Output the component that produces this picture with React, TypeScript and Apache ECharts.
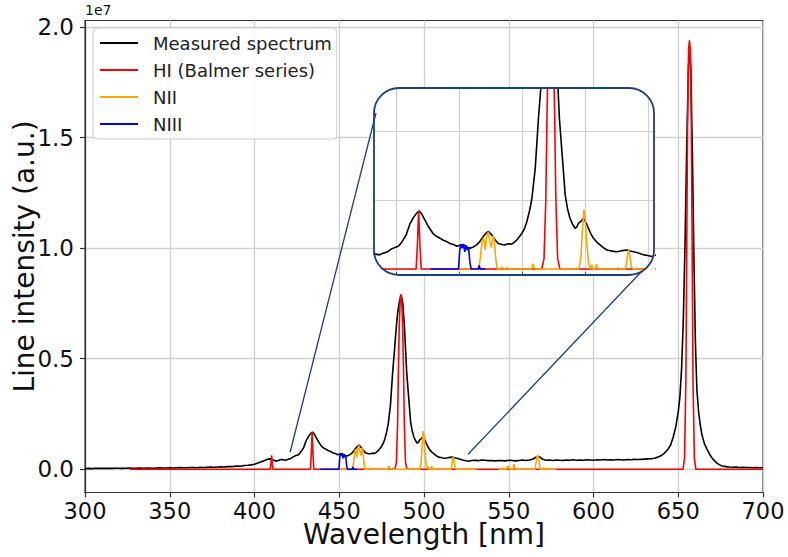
import { useEffect, useRef } from "react";
import * as echarts from "echarts";

// Axis ticks
const WAVELENGTH_TICKS = [300, 350, 400, 450, 500, 550, 600, 650, 700];
const INTENSITY_TICKS = [0, 5e6, 1e7, 1.5e7, 2e7];
const INSET_X_TICKS = [425, 450, 475, 500, 525];
const INSET_Y_TICKS = [0, 2e6, 4e6];

// Intensities below are given in units of 1e6 (a.u.)
const UNIT = 1e6;

// Measured spectrum: [wavelength (nm), intensity]
const measured: [number, number][] = [
  [300, 0.03], [302, 0.04], [304, 0.03], [306, 0.04], [308, 0.05], [310, 0.04], [312, 0.04], [314, 0.05],
  [316, 0.04], [318, 0.05], [320, 0.05], [322, 0.04], [324, 0.05], [326, 0.06], [328, 0.05], [330, 0.05],
  [332, 0.06], [334, 0.05], [336, 0.06], [338, 0.06], [340, 0.05], [342, 0.06], [344, 0.07], [346, 0.06],
  [348, 0.06], [350, 0.07], [352, 0.06], [354, 0.07], [356, 0.08], [358, 0.07], [360, 0.07], [362, 0.08],
  [364, 0.08], [366, 0.07], [368, 0.09], [370, 0.08], [372, 0.09], [374, 0.1], [376, 0.09], [378, 0.1],
  [380, 0.11], [382, 0.1], [384, 0.12], [386, 0.12], [388, 0.13], [390, 0.15], [392, 0.14], [394, 0.17],
  [396, 0.18], [398, 0.2], [400, 0.23], [402, 0.28], [404, 0.34], [406, 0.4], [408, 0.46], [409.5, 0.47],
  [411, 0.42], [412.5, 0.37], [414, 0.4], [415.5, 0.44], [417, 0.43], [418.5, 0.41], [420, 0.46], [421.5, 0.49],
  [423, 0.57], [424.5, 0.62], [426, 0.66], [427.5, 0.8], [429, 0.98], [430.5, 1.3], [432, 1.5], [433.2, 1.62],
  [434.2, 1.68], [435.2, 1.6], [436.5, 1.42], [437.5, 1.28], [438.5, 1.16], [439.8, 1.02], [441, 0.95],
  [442.3, 0.9], [443.6, 0.84], [445, 0.8], [446.4, 0.74], [447.8, 0.71], [449.1, 0.66], [450.4, 0.69],
  [451.7, 0.71], [453, 0.64], [454.4, 0.6], [455.7, 0.64], [457, 0.7], [458.3, 0.8], [459.6, 0.94],
  [460.6, 1.03], [461.6, 1.09], [462.6, 1.02], [463.6, 0.93], [464.6, 0.82], [465.6, 0.74], [467, 0.71],
  [468.3, 0.7], [469.6, 0.73], [470.9, 0.72], [472, 0.78], [472.9, 0.84], [474, 0.94], [474.9, 1.03],
  [476, 1.18], [476.9, 1.37], [478, 1.7], [478.9, 2.05], [480.2, 2.9], [481.5, 4.37], [482.5, 5.3],
  [483.5, 6.3], [484.5, 7.1], [485.5, 7.6], [486.5, 7.9], [487.5, 7.5], [488.5, 6.4], [489.2, 5.3],
  [489.8, 4.37], [490.8, 3.4], [492.1, 2.14], [493, 1.75], [494, 1.47], [495, 1.3], [496, 1.18], [496.7, 1.22],
  [497.3, 1.32], [498.3, 1.38], [499.3, 1.47], [500.3, 1.35], [501.3, 1.18], [502.3, 1.02], [503.3, 0.89],
  [504.6, 0.78], [505.9, 0.7], [507.2, 0.62], [508.6, 0.55], [510, 0.53], [511.3, 0.51], [512.6, 0.5],
  [514, 0.52], [515.3, 0.54], [516.6, 0.55], [517.9, 0.52], [519.2, 0.5], [520.5, 0.48], [521.9, 0.44],
  [523.2, 0.41], [524.8, 0.39], [526.5, 0.36], [528, 0.4], [530, 0.41], [532, 0.39], [534, 0.42], [536, 0.41],
  [538, 0.39], [540, 0.4], [542, 0.38], [544, 0.4], [546, 0.39], [548, 0.38], [550, 0.41], [552, 0.4],
  [554, 0.38], [556, 0.4], [558, 0.42], [560, 0.4], [562, 0.42], [564, 0.45], [565.5, 0.52], [567, 0.58],
  [568.5, 0.55], [570, 0.45], [572, 0.41], [574, 0.42], [576, 0.4], [578, 0.42], [580, 0.41], [582, 0.4],
  [584, 0.42], [586, 0.41], [588, 0.43], [590, 0.41], [592, 0.42], [594, 0.41], [596, 0.43], [598, 0.42],
  [600, 0.41], [602, 0.43], [604, 0.42], [606, 0.44], [608, 0.42], [610, 0.43], [612, 0.42], [614, 0.44],
  [616, 0.43], [618, 0.42], [620, 0.44], [622, 0.43], [624, 0.45], [626, 0.44], [628, 0.45], [630, 0.46],
  [632, 0.47], [634, 0.48], [636, 0.5], [638, 0.55], [640, 0.62], [642, 0.74], [644, 0.92], [645.5, 1.1],
  [647, 1.45], [648.5, 1.9], [650, 2.6], [651, 3.3], [652, 4.6], [653, 6.8], [654, 10.2], [655, 14.6],
  [656, 18.2], [656.7, 18.9], [657.4, 18.2], [658.3, 14.5], [659.2, 9.8], [660.1, 5.8], [661, 3.6], [662, 2.6],
  [663, 2.0], [664, 1.55], [665.5, 1.15], [667, 0.9], [668.5, 0.68], [670, 0.5], [671.5, 0.38], [673, 0.27],
  [674.5, 0.2], [676, 0.15], [678, 0.12], [680, 0.1], [682, 0.09], [684, 0.1], [686, 0.08], [688, 0.09],
  [690, 0.08], [692, 0.08], [694, 0.07], [696, 0.08], [698, 0.07], [700, 0.08],
];

// HI Balmer lines (Hδ, Hγ, Hβ, Hα)
const hiBalmer: [number, number][] = [
  [326.5, 0], [409.3, 0], [409.7, 0.25], [410.1, 0.63], [410.5, 0.25], [410.9, 0],
  [433.0, 0], [433.5, 0.7], [434.0, 1.69], [434.5, 0.7], [435.0, 0],
  [482.8, 0], [483.7, 0.3], [484.4, 2.0], [484.9, 4.5], [485.4, 6.5], [486.0, 7.7], [486.4, 7.9],
  [486.8, 7.7], [487.4, 6.5], [487.9, 4.5], [488.4, 2.0], [489.1, 0.3], [490.0, 0],
  [652.8, 0], [653.7, 0.5], [654.5, 4.0], [655.0, 10.0], [655.5, 15.5], [656.1, 19.0], [656.6, 19.4],
  [657.1, 19.0], [657.7, 15.5], [658.2, 10.0], [658.7, 4.0], [659.5, 0.5], [660.4, 0], [700, 0],
];

// NII lines, blue-green window
const niiA: [number, number][] = [
  [449.5, 0], [457.8, 0], [458.5, 0.35], [459.2, 0.82], [459.8, 0.9], [460.4, 0.55], [461.0, 0.95],
  [461.6, 1.08], [462.2, 0.8], [462.8, 0.62], [463.4, 0.95], [463.9, 0.9], [464.5, 0.35], [465.1, 0],
  [466.5, 0], [467.0, 0.06], [467.5, 0], [468.5, 0], [469.0, 0.05], [469.5, 0], [478.8, 0], [479.3, 0.15],
  [479.8, 0.05], [480.3, 0], [497.5, 0], [498.3, 0.3], [498.9, 1.1], [499.5, 1.72], [500.0, 1.5],
  [500.6, 0.8], [501.3, 0.2], [502.0, 0], [502.6, 0.12], [503.1, 0], [504.1, 0], [504.5, 0.15], [505.0, 0],
  [512.5, 0], [513.0, 0.03], [513.5, 0], [516.0, 0], [516.6, 0.3], [517.2, 0.56], [517.8, 0.35],
  [518.4, 0.05], [519.0, 0], [531, 0],
];

// NII lines, green window
const niiB: [number, number][] = [
  [544, 0], [546, 0], [546.5, 0.08], [547, 0], [548.5, 0], [549, 0.12], [549.5, 0.03], [550, 0.15],
  [550.5, 0], [552.5, 0], [553, 0.25], [553.5, 0.1], [554, 0], [565.5, 0], [566.2, 0.35], [566.8, 0.62],
  [567.4, 0.6], [568.0, 0.3], [568.6, 0], [570, 0], [570.5, 0.08], [571, 0], [572.5, 0], [573, 0.05],
  [573.5, 0], [578, 0],
];

// NIII lines
const niii: [number, number][] = [
  [438.8, 0], [449.8, 0], [450.3, 0.55], [450.8, 0.72], [451.3, 0.6], [451.8, 0.7], [452.3, 0.5],
  [452.8, 0.68], [453.3, 0.55], [453.8, 0.62], [454.3, 0.2], [454.8, 0], [457.6, 0], [458.0, 0.1],
  [458.4, 0], [460.5, 0],
];

// Where the zoom connectors leave the main spectrum: [wavelength (nm), intensity]
const ZOOM_ANCHORS: [number, number][] = [
  [421, 0.77],
  [526, 0.68],
];

const SERIES_NAMES = ["Measured spectrum", "HI (Balmer series)", "NII", "NIII"];
const COLORS = { measured: "#000000", hi: "#ff0000", nii: "#ffa500", niii: "#0000ff" };

const FONT = "DejaVu Sans";
const GRID_COLOR = "#d0d0d0";
const FRAME_COLOR = "#1f3f7a";

// Inset box in pixels
const INSET = { left: 374, top: 88, width: 280, height: 187, r: 25 };
const INSET_X_RANGE = [416.3, 527.3];
const INSET_Y_RANGE = [-0.174e6, 5.246e6];

const toPairs = (arr: [number, number][]) => arr.map(([x, y]) => [x, y * UNIT]);

function cornerMaskPath(w: number, h: number, r: number) {
  return [
    `M0 0 L${r} 0 A${r} ${r} 0 0 0 0 ${r} Z`,
    `M${w} 0 L${w} ${r} A${r} ${r} 0 0 0 ${w - r} 0 Z`,
    `M${w} ${h} L${w - r} ${h} A${r} ${r} 0 0 0 ${w} ${h - r} Z`,
    `M0 ${h} L0 ${h - r} A${r} ${r} 0 0 0 ${r} ${h} Z`,
  ].join(" ");
}

echarts.graphic.registerShape(
  "insetCorners",
  echarts.graphic.extendPath(cornerMaskPath(INSET.width + 2, INSET.height + 2, INSET.r + 1), {})
);

function lineSeries(name: string, data: [number, number][], color: string, inset: boolean, width = 1.6) {
  return {
    type: "line",
    name,
    data: toPairs(data),
    xAxisIndex: inset ? 1 : 0,
    yAxisIndex: inset ? 1 : 0,
    showSymbol: false,
    symbol: "none",
    clip: true,
    z: inset ? 5 : 2,
    lineStyle: { color, width },
    itemStyle: { color },
    emphasis: { disabled: true },
  };
}

export default function App() {
  const ref = useRef<HTMLDivElement>(null);

  useEffect(() => {
    if (!ref.current) return;
    const chart = echarts.init(ref.current, null, { renderer: "svg" });

    const series: any[] = [];
    for (const inset of [false, true]) {
      series.push(lineSeries(SERIES_NAMES[0], measured, COLORS.measured, inset, 1.6));
      series.push(lineSeries(SERIES_NAMES[1], hiBalmer, COLORS.hi, inset, 1.6));
      series.push(lineSeries(SERIES_NAMES[2], niiA, COLORS.nii, inset, 1.6));
      series.push(lineSeries(SERIES_NAMES[2], niiB, COLORS.nii, inset, 1.6));
      series.push(lineSeries(SERIES_NAMES[3], niii, COLORS.niii, inset, 1.6));
    }

    chart.setOption({
      animation: false,
      backgroundColor: "#ffffff",
      textStyle: { fontFamily: FONT },
      grid: [
        {
          left: 85, top: 20.5, right: 25, bottom: 64.5,
          outerBoundsMode: "none", containLabel: false,
          show: true, borderColor: "#333333", borderWidth: 1.2, z: 0,
        },
        {
          left: INSET.left, top: INSET.top, width: INSET.width, height: INSET.height,
          outerBoundsMode: "none", containLabel: false, show: false, z: 4,
        },
      ],
      xAxis: [
        {
          type: "value",
          gridIndex: 0,
          min: WAVELENGTH_TICKS[0],
          max: WAVELENGTH_TICKS[WAVELENGTH_TICKS.length - 1],
          interval: 50,
          name: "Wavelength [nm]",
          nameLocation: "middle",
          nameGap: 33,
          nameMoveOverlap: false,
          nameTextStyle: { fontSize: 28, lineHeight: 18, color: "#111", fontFamily: FONT },
          axisLine: { show: true, onZero: false, lineStyle: { color: "#333", width: 1.2 } },
          axisTick: { show: true, length: 5, lineStyle: { color: "#333", width: 1.2 } },
          axisLabel: { fontSize: 22.5, lineHeight: 22, color: "#111", margin: 7, fontFamily: FONT },
          splitLine: { show: true, lineStyle: { color: GRID_COLOR, width: 1.3 } },
          z: 0,
        },
        {
          type: "value",
          gridIndex: 1,
          min: INSET_X_RANGE[0],
          max: INSET_X_RANGE[1],
          axisLine: { show: false, onZero: false },
          axisTick: { show: true, inside: true, length: 3, customValues: INSET_X_TICKS, lineStyle: { color: "#555" } },
          axisLabel: { show: false, customValues: INSET_X_TICKS },
          splitLine: { show: true, lineStyle: { color: GRID_COLOR, width: 1.2 } },
          z: 4,
        },
      ],
      yAxis: [
        {
          type: "value",
          gridIndex: 0,
          min: -1.05e6,
          max: 2.03e7,
          name: "Line intensity (a.u.)",
          nameLocation: "middle",
          nameGap: 47,
          nameMoveOverlap: false,
          nameTextStyle: { fontSize: 28, lineHeight: 28, color: "#111", fontFamily: FONT },
          axisLine: { show: true, onZero: false, lineStyle: { color: "#333", width: 1.2 } },
          axisTick: { show: true, length: 5, customValues: INTENSITY_TICKS, lineStyle: { color: "#333", width: 1.2 } },
          axisLabel: {
            fontSize: 23,
            color: "#111",
            margin: 11,
            fontFamily: FONT,
            customValues: INTENSITY_TICKS,
            formatter: (v: number) => (v / 1e7).toFixed(1),
          },
          splitLine: { show: true, lineStyle: { color: GRID_COLOR, width: 1.3 } },
          z: 0,
        },
        {
          type: "value",
          gridIndex: 1,
          min: INSET_Y_RANGE[0],
          max: INSET_Y_RANGE[1],
          axisLine: { show: false, onZero: false },
          axisTick: { show: false, customValues: INSET_Y_TICKS },
          axisLabel: { show: false, customValues: INSET_Y_TICKS },
          splitLine: { show: true, lineStyle: { color: GRID_COLOR, width: 1.2 } },
          z: 4,
        },
      ],
      legend: {
        data: SERIES_NAMES,
        orient: "vertical",
        left: 93,
        top: 28,
        itemWidth: 38,
        itemHeight: 2,
        icon: "rect",
        itemGap: 7,
        padding: [5, 5, 5, 7],
        borderColor: "#cccccc",
        borderWidth: 1,
        borderRadius: 4,
        backgroundColor: "rgba(255,255,255,0.85)",
        selectedMode: false,
        z: 10,
        textStyle: { fontSize: 18, color: "#222", fontFamily: FONT, lineHeight: 20, padding: [0, 0, 0, 10] },
      },
      series,
    });

    const a0 = chart.convertToPixel({ xAxisIndex: 0, yAxisIndex: 0 }, [ZOOM_ANCHORS[0][0], ZOOM_ANCHORS[0][1] * UNIT]);
    const a1 = chart.convertToPixel({ xAxisIndex: 0, yAxisIndex: 0 }, [ZOOM_ANCHORS[1][0], ZOOM_ANCHORS[1][1] * UNIT]);

    chart.setOption({
      graphic: [
        {
          type: "text",
          left: 85,
          top: 3,
          z: 10,
          style: { text: "1e7", fontSize: 14, fill: "#111", fontFamily: FONT },
        },
        {
          type: "rect",
          z: 3,
          shape: { x: INSET.left, y: INSET.top, width: INSET.width, height: INSET.height, r: INSET.r },
          style: { fill: "#ffffff" },
        },
        {
          type: "insetCorners",
          x: INSET.left - 1,
          y: INSET.top - 1,
          z: 8,
          style: { fill: "#ffffff" },
        },
        {
          type: "rect",
          z: 9,
          shape: { x: INSET.left, y: INSET.top, width: INSET.width, height: INSET.height, r: INSET.r },
          style: { fill: "none", stroke: FRAME_COLOR, lineWidth: 1.8 },
        },
        {
          type: "line",
          z: 9,
          shape: { x1: a0[0], y1: a0[1], x2: INSET.left + 2, y2: INSET.top + 25 },
          style: { stroke: FRAME_COLOR, lineWidth: 1.3 },
        },
        {
          type: "line",
          z: 9,
          shape: { x1: a1[0], y1: a1[1], x2: INSET.left + 268, y2: INSET.top + 183 },
          style: { stroke: FRAME_COLOR, lineWidth: 1.3 },
        },
      ],
    });

    return () => chart.dispose();
  }, []);

  return (
    <div
      ref={ref}
      style={{ position: "absolute", left: 0, top: 0, width: 788, height: 557 }}
    />
  );
}
